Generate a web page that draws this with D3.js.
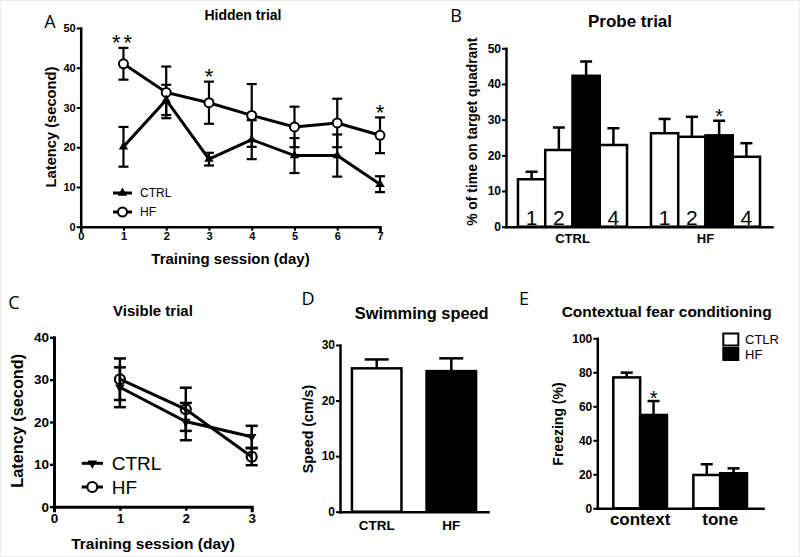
<!DOCTYPE html>
<html><head><meta charset="utf-8">
<script src="https://cdn.jsdelivr.net/npm/d3@7"></script>
<style>
body{margin:0;background:#fff;}
svg{display:block;font-family:"Liberation Sans",Arial,sans-serif;}
</style></head><body>
<svg id="fig" width="800" height="557"></svg>
<script>
// ---------- DATA ----------
// A: Hidden trial
const hiddenDays = [1, 2, 3, 4, 5, 6, 7];
const hiddenCtrlMean = [20.1, 31.9, 17.0, 21.9, 17.9, 17.9, 10.7];
const hiddenCtrlErr  = [5.0, 3.8, 1.6, 4.9, 4.4, 5.3, 2.0];
const hiddenHfMean   = [41.0, 33.8, 31.2, 28.0, 25.1, 26.1, 23.0];
const hiddenHfErr    = [4.0, 6.5, 5.3, 7.9, 5.1, 6.1, 4.5];
const hiddenXTicks = [0, 1, 2, 3, 4, 5, 6, 7];
const hiddenYTicks = [0, 10, 20, 30, 40, 50];
const hiddenStars = [{day: 1, text: "**"}, {day: 3, text: "*"}, {day: 7, text: "*"}];
// B: Probe trial
const probeGroups = ["CTRL", "HF"];
const probeQuadrants = ["1", "2", "3", "4"];
const probeQuadLabels = ["1", "2", "", "4"];
const probeCtrlMean = [13.3, 21.5, 42.3, 22.9];
const probeCtrlErr  = [2.1, 6.3, 4.0, 4.7];
const probeHfMean   = [26.2, 25.2, 25.6, 19.6];
const probeHfErr    = [4.0, 5.6, 4.1, 3.8];
const probeYTicks = [0, 10, 20, 30, 40, 50];
// C: Visible trial
const visibleDays = [1, 2, 3];
const visibleCtrlMean = [28.2, 20.1, 16.5];
const visibleCtrlErr  = [4.7, 4.4, 2.6];
const visibleHfMean   = [30.1, 23.0, 11.8];
const visibleHfErr    = [4.9, 5.1, 2.0];
const visibleXTicks = [0, 1, 2, 3];
const visibleYTicks = [0, 10, 20, 30, 40];
// D: Swimming speed
const speedGroups = ["CTRL", "HF"];
const speedMean = [25.8, 25.3];
const speedErr  = [1.6, 2.3];
const speedYTicks = [0, 10, 20, 30];
// E: Contextual fear conditioning
const fearGroups = ["context", "tone"];
const fearSeries = ["CTLR", "HF"];
const fearCtrlMean = [77.0, 19.6];
const fearCtrlErr  = [2.8, 6.3];
const fearHfMean   = [54.9, 20.6];
const fearHfErr    = [8.2, 2.9];
const fearYTicks = [0, 20, 40, 60, 80, 100];

// ---------- HELPERS ----------
const svg = d3.select("#fig");
svg.append("rect").attr("x", 0.5).attr("y", 0.5).attr("width", 799).attr("height", 556)
  .attr("fill", "#fff").attr("stroke", "#ebebeb");

function styleAxis(a, fs, sw) {
  a.attr("font-family", null).attr("font-size", null);
  a.select(".domain").attr("stroke-width", sw).attr("stroke-linecap", "square").attr("stroke", "#000");
  a.selectAll(".tick line").attr("stroke-width", sw * 0.8).attr("stroke", "#000");
  a.selectAll(".tick text").attr("font-size", fs).attr("font-weight", "bold").attr("fill", "#000");
}
function leftAxis(scale, ticks, x, fs, sw) {
  const a = svg.append("g").attr("transform", `translate(${x},0)`)
    .call(d3.axisLeft(scale).tickValues(ticks).tickFormat(d3.format("d")).tickSize(4).tickSizeOuter(0).tickPadding(1));
  styleAxis(a, fs, sw);
  return a;
}
function bottomAxis(scale, ticks, y, fs, sw, tickLen, pad) {
  const ax = d3.axisBottom(scale).tickSizeOuter(0).tickSize(tickLen).tickPadding(pad);
  if (ticks) ax.tickValues(ticks).tickFormat(d3.format("d"));
  const a = svg.append("g").attr("transform", `translate(0,${y})`).call(ax);
  styleAxis(a, fs, sw);
  return a;
}
function text(x, y, s, opts) {
  const t = svg.append("text").attr("x", x).attr("y", y).text(s)
    .attr("text-anchor", opts.anchor || "middle")
    .attr("dominant-baseline", opts.baseline || "central")
    .attr("font-size", opts.size || 12)
    .attr("font-weight", opts.weight || "bold")
    .attr("fill", "#000");
  if (opts.family) t.attr("font-family", opts.family);
  if (opts.rotate) t.attr("transform", `rotate(-90,${x},${y})`);
  return t;
}
function star(x, yCenter, s, size) {
  return svg.append("text").attr("x", x).attr("y", yCenter + size * 0.6).text(s)
    .attr("text-anchor", "middle").attr("font-size", size).attr("fill", "#000")
    .attr("letter-spacing", s.length > 1 ? 3 : 0);
}
function errBars(g, xs, means, errs, x, y, capW, sw, both) {
  xs.forEach((d, i) => {
    const cx = x(d), top = y(means[i] + errs[i]), bot = both ? y(means[i] - errs[i]) : y(means[i]);
    g.append("line").attr("x1", cx).attr("x2", cx).attr("y1", top).attr("y2", bot)
      .attr("stroke", "#000").attr("stroke-width", sw);
    g.append("line").attr("x1", cx - capW / 2).attr("x2", cx + capW / 2).attr("y1", top).attr("y2", top)
      .attr("stroke", "#000").attr("stroke-width", sw);
    if (both) g.append("line").attr("x1", cx - capW / 2).attr("x2", cx + capW / 2).attr("y1", bot).attr("y2", bot)
      .attr("stroke", "#000").attr("stroke-width", sw);
  });
}

// ---------- PANEL A ----------
{
  const x = d3.scaleLinear().domain([0, 7]).range([80.7, 380]);
  const y = d3.scaleLinear().domain([0, 50]).range([226.7, 28]);
  const g = svg.append("g");
  errBars(g, hiddenDays, hiddenHfMean, hiddenHfErr, x, y, 10, 2.2, true);
  errBars(g, hiddenDays, hiddenCtrlMean, hiddenCtrlErr, x, y, 10, 2.2, true);
  const l = d3.line();
  g.append("path").attr("d", l(hiddenDays.map((d, i) => [x(d), y(hiddenHfMean[i])])))
    .attr("fill", "none").attr("stroke", "#000").attr("stroke-width", 3);
  g.append("path").attr("d", l(hiddenDays.map((d, i) => [x(d), y(hiddenCtrlMean[i])])))
    .attr("fill", "none").attr("stroke", "#000").attr("stroke-width", 3);
  hiddenDays.forEach((d, i) => {
    g.append("circle").attr("cx", x(d)).attr("cy", y(hiddenHfMean[i])).attr("r", 4.5)
      .attr("fill", "#fff").attr("stroke", "#000").attr("stroke-width", 2);
    g.append("path").attr("d", d3.symbol(d3.symbolTriangle, 38)())
      .attr("transform", `translate(${x(d)},${y(hiddenCtrlMean[i])})`).attr("fill", "#000");
  });
  leftAxis(y, hiddenYTicks, 80.7, 11, 2.5);
  bottomAxis(x, hiddenXTicks, 226.7, 11, 2.5, 4, 2);
  hiddenStars.forEach(s => {
    const top = Math.max(hiddenHfMean[s.day - 1] + hiddenHfErr[s.day - 1], hiddenCtrlMean[s.day - 1] + hiddenCtrlErr[s.day - 1]);
    star(x(s.day), y(top) - 11, s.text, 22);
  });
  // legend
  svg.append("line").attr("x1", 113).attr("x2", 132).attr("y1", 193).attr("y2", 193).attr("stroke", "#000").attr("stroke-width", 3);
  svg.append("path").attr("d", d3.symbol(d3.symbolTriangle, 38)()).attr("transform", "translate(122.5,193)").attr("fill", "#000");
  svg.append("line").attr("x1", 113).attr("x2", 132).attr("y1", 212).attr("y2", 212).attr("stroke", "#000").attr("stroke-width", 3);
  svg.append("circle").attr("cx", 122.5).attr("cy", 212).attr("r", 4.5).attr("fill", "#fff").attr("stroke", "#000").attr("stroke-width", 2);
  text(140, 193, "CTRL", {anchor: "start", weight: "normal", size: 12});
  text(140, 212, "HF", {anchor: "start", weight: "normal", size: 12});
  text(243, 15, "Hidden trial", {size: 14});
  text(230.5, 258.5, "Training session (day)", {size: 15});
  text(51, 127, "Latency (second)", {size: 14.7, rotate: true});
  text(50, 21, "A", {weight: "normal", size: 18, family: "Open Sans"});
}

// ---------- PANEL B ----------
{
  const y = d3.scaleLinear().domain([0, 50]).range([226.7, 48.3]);
  const xg = d3.scaleBand().domain(probeGroups).range([506, 772]).paddingInner(0.18).paddingOuter(0.09);
  const xq = d3.scaleBand().domain(probeQuadrants).range([0, xg.bandwidth()]);
  const g = svg.append("g");
  const sets = [[probeCtrlMean, probeCtrlErr], [probeHfMean, probeHfErr]];
  probeGroups.forEach((grp, gi) => {
    const [means, errs] = sets[gi];
    const bx = q => xg(grp) + xq(q);
    errBars(g, probeQuadrants, means, errs, q => bx(q) + xq.bandwidth() / 2, y, 12, 2.5, false);
    probeQuadrants.forEach((q, i) => {
      g.append("rect").attr("x", bx(q)).attr("y", y(means[i])).attr("width", xq.bandwidth())
        .attr("height", y(0) - y(means[i])).attr("fill", q === "3" ? "#000" : "#fff")
        .attr("stroke", "#000").attr("stroke-width", 2.5);
      if (probeQuadLabels[i]) {
        svg.append("text").attr("x", bx(q) + xq.bandwidth() / 2).attr("y", 224.5).text(probeQuadLabels[i])
          .attr("text-anchor", "middle").attr("font-size", 21).attr("fill", "#000");
      }
    });
  });
  leftAxis(y, probeYTicks, 506, 12, 2.5);
  bottomAxis(xg, null, 226.7, 13, 2.5, 0, 7);
  star(xg("HF") + xq("3") + xq.bandwidth() / 2, y(probeHfMean[2] + probeHfErr[2]) - 10, "*", 20);
  text(630, 21.7, "Probe trial", {size: 17});
  text(472, 131.7, "% of time on target quadrant", {size: 13.9, rotate: true});
  text(456, 14.5, "B", {weight: "normal", size: 18, family: "Open Sans"});
}

// ---------- PANEL C ----------
{
  const x = d3.scaleLinear().domain([0, 3]).range([54, 251.7]);
  const y = d3.scaleLinear().domain([0, 40]).range([506.7, 337.3]);
  const g = svg.append("g");
  errBars(g, visibleDays, visibleHfMean, visibleHfErr, x, y, 12, 2.5, true);
  errBars(g, visibleDays, visibleCtrlMean, visibleCtrlErr, x, y, 12, 2.5, true);
  const l = d3.line();
  g.append("path").attr("d", l(visibleDays.map((d, i) => [x(d), y(visibleHfMean[i])])))
    .attr("fill", "none").attr("stroke", "#000").attr("stroke-width", 3);
  g.append("path").attr("d", l(visibleDays.map((d, i) => [x(d), y(visibleCtrlMean[i])])))
    .attr("fill", "none").attr("stroke", "#000").attr("stroke-width", 3);
  visibleDays.forEach((d, i) => {
    g.append("path").attr("d", d3.symbol(d3.symbolTriangle, 40)())
      .attr("transform", `translate(${x(d)},${y(visibleCtrlMean[i])}) rotate(180)`).attr("fill", "#000");
    g.append("circle").attr("cx", x(d)).attr("cy", y(visibleHfMean[i])).attr("r", 5)
      .attr("fill", "none").attr("stroke", "#000").attr("stroke-width", 2.2);
  });
  leftAxis(y, visibleYTicks, 54, 13.5, 3);
  bottomAxis(x, visibleXTicks, 506.7, 13.5, 3, 4, 3);
  // legend
  svg.append("line").attr("x1", 81.7).attr("x2", 103).attr("y1", 463.3).attr("y2", 463.3).attr("stroke", "#000").attr("stroke-width", 3);
  svg.append("path").attr("d", d3.symbol(d3.symbolTriangle, 40)()).attr("transform", "translate(92.3,463.3) rotate(180)").attr("fill", "#000");
  svg.append("line").attr("x1", 81.7).attr("x2", 103).attr("y1", 487).attr("y2", 487).attr("stroke", "#000").attr("stroke-width", 3);
  svg.append("circle").attr("cx", 92.3).attr("cy", 487).attr("r", 5).attr("fill", "#fff").attr("stroke", "#000").attr("stroke-width", 2.2);
  text(111.7, 463.3, "CTRL", {anchor: "start", weight: "normal", size: 19});
  text(111.7, 487, "HF", {anchor: "start", weight: "normal", size: 19});
  text(153, 310.7, "Visible trial", {size: 15});
  text(153, 543.3, "Training session (day)", {size: 15.5});
  text(17, 420.8, "Latency (second)", {size: 16.3, rotate: true});
  text(14, 301.7, "C", {weight: "normal", size: 18, family: "Open Sans"});
}

// ---------- PANEL D ----------
{
  const y = d3.scaleLinear().domain([0, 30]).range([511.7, 345]);
  const x = d3.scaleBand().domain(speedGroups).range([340, 488]).paddingInner(0.336).paddingOuter(0.16);
  const g = svg.append("g");
  errBars(g, speedGroups, speedMean, speedErr, d => x(d) + x.bandwidth() / 2, y, 24, 2.5, false);
  speedGroups.forEach((d, i) => {
    g.append("rect").attr("x", x(d)).attr("y", y(speedMean[i])).attr("width", x.bandwidth())
      .attr("height", y(0) - y(speedMean[i])).attr("fill", i === 0 ? "#fff" : "#000")
      .attr("stroke", "#000").attr("stroke-width", 2.5);
  });
  leftAxis(y, speedYTicks, 340, 12, 2.5);
  bottomAxis(x, null, 511.7, 13.5, 2.5, 0, 9);
  text(421.7, 313.3, "Swimming speed", {size: 16.4});
  text(308.3, 429, "Speed (cm/s)", {size: 14.2, rotate: true});
  text(308, 298, "D", {weight: "normal", size: 18, family: "Open Sans"});
}

// ---------- PANEL E ----------
{
  const y = d3.scaleLinear().domain([0, 100]).range([508.3, 338.3]);
  const xg = d3.scaleBand().domain(fearGroups).range([597.3, 763]).paddingInner(0.33).paddingOuter(0.2);
  const xs = d3.scaleBand().domain(fearSeries).range([0, xg.bandwidth()]);
  const g = svg.append("g");
  const sets = [[fearCtrlMean, fearCtrlErr], [fearHfMean, fearHfErr]];
  fearSeries.forEach((s, si) => {
    const [means, errs] = sets[si];
    errBars(g, fearGroups, means, errs, grp => xg(grp) + xs(s) + xs.bandwidth() / 2, y, 12, 2.5, false);
    fearGroups.forEach((grp, i) => {
      g.append("rect").attr("x", xg(grp) + xs(s)).attr("y", y(means[i])).attr("width", xs.bandwidth())
        .attr("height", y(0) - y(means[i])).attr("fill", si === 0 ? "#fff" : "#000")
        .attr("stroke", "#000").attr("stroke-width", 2.5);
    });
  });
  leftAxis(y, fearYTicks, 597.3, 12, 2.5);
  bottomAxis(xg, null, 508.3, 17, 2.5, 0, 5);
  star(xg("context") + xs("HF") + xs.bandwidth() / 2, y(fearHfMean[0] + fearHfErr[0]) - 8, "*", 20);
  // legend
  fearSeries.forEach((s, i) => {
    svg.append("rect").attr("x", 723.3).attr("y", 333.5 + i * 14.5).attr("width", 15).attr("height", 12)
      .attr("fill", i === 0 ? "#fff" : "#000").attr("stroke", "#000").attr("stroke-width", 2);
    text(745, 339.5 + i * 14.5, s, {anchor: "start", weight: "normal", size: 13});
  });
  text(666.7, 311.7, "Contextual fear conditioning", {size: 15.5});
  text(557.5, 424, "Freezing (%)", {size: 14, rotate: true});
  text(524, 297.5, "E", {weight: "normal", size: 18, family: "Open Sans"});
}
</script>
</body></html>
